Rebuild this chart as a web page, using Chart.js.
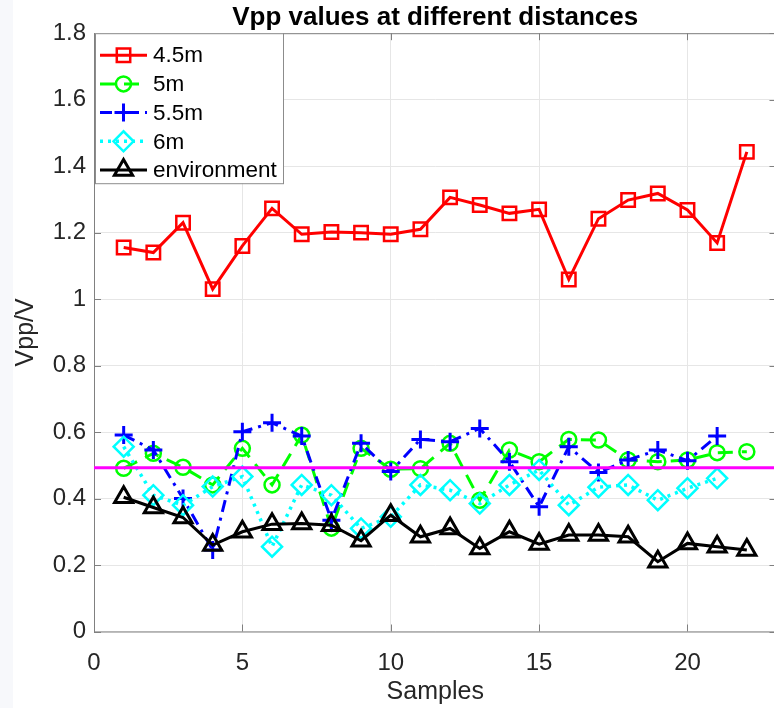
<!DOCTYPE html>
<html>
<head>
<meta charset="utf-8">
<script src="https://cdn.jsdelivr.net/npm/chart.js@4/dist/chart.umd.min.js"></script>
<style>
  html, body { margin: 0; padding: 0; background: #ffffff; overflow: hidden; width: 774px; height: 708px; }
  #wrap { position: relative; width: 790px; height: 708px; }
  #strip { position: absolute; left: 0; top: 0; width: 13px; height: 708px; background: #f7f8fb; }
  canvas { position: absolute; left: 0; top: 0; }
</style>
</head>
<body>
<div id="wrap"><div id="strip"></div><canvas id="c" width="790" height="708"></canvas></div>
<script>
// Sample index
const samples = [1, 2, 3, 4, 5, 6, 7, 8, 9, 10, 11, 12, 13, 14, 15, 16, 17, 18, 19, 20, 21, 22];

// Peak-to-peak voltage (V) per distance
const vpp45 = [1.155, 1.14, 1.23, 1.03, 1.16, 1.273, 1.195, 1.202, 1.20, 1.195, 1.21,
               1.306, 1.283, 1.258, 1.27, 1.059, 1.242, 1.298, 1.318, 1.268, 1.169, 1.443];
const vpp5  = [0.491, 0.536, 0.494, 0.441, 0.551, 0.441, 0.591, 0.311, 0.551, 0.488, 0.490,
               0.566, 0.395, 0.546, 0.511, 0.578, 0.576, 0.516, 0.511, 0.516, 0.538, 0.541];
const vpp55 = [0.591, 0.546, 0.40, 0.245, 0.601, 0.628, 0.588, 0.335, 0.566, 0.481, 0.578,
               0.571, 0.611, 0.511, 0.375, 0.556, 0.478, 0.516, 0.546, 0.514, 0.588];
const vpp6  = [0.556, 0.41, 0.38, 0.436, 0.466, 0.255, 0.441, 0.41, 0.31, 0.345, 0.441,
               0.425, 0.385, 0.441, 0.486, 0.38, 0.434, 0.441, 0.395, 0.431, 0.461];
const vppEnv = [0.404, 0.373, 0.343, 0.26, 0.30, 0.323, 0.325, 0.32, 0.273, 0.35, 0.285,
                0.31, 0.25, 0.30, 0.263, 0.29, 0.29, 0.285, 0.21, 0.265, 0.255, 0.245];

// Detection threshold (horizontal reference line)
const threshold = 0.4925;

// Axis ticks
const xTicks = [0, 5, 10, 15, 20];
const yTicks = [0, 0.2, 0.4, 0.6, 0.8, 1, 1.2, 1.4, 1.6, 1.8];
const seriesNames = ['4.5m', '5m', '5.5m', '6m', 'environment'];

const pts = (vals) => vals.map((v, i) => ({ x: samples[i], y: v }));

const FONT = "'Liberation Sans', Arial, Helvetica, sans-serif";
const AXIS_COLOR = '#262626';

function series(label, vals, color, dash, style, radius, lw, pw, order) {
  return {
    label, data: pts(vals), borderColor: color, borderWidth: lw, borderDash: dash,
    pointStyle: style, pointRadius: radius, pointHoverRadius: radius,
    pointBorderColor: color, pointBackgroundColor: 'rgba(0,0,0,0)', pointBorderWidth: pw,
    tension: 0, fill: false, order, showLine: true, inLegend: true
  };
}

const datasets = [
  series(seriesNames[0], vpp45, '#ff0000', [], 'rect', 9.5, 3, 2.5, 5),
  series(seriesNames[1], vpp5, '#00ff00', [15, 9], 'circle', 7.5, 3, 2.5, 4),
  series(seriesNames[2], vpp55, '#0000ff', [12, 6, 3, 6], 'cross', 9, 3, 3, 3),
  series(seriesNames[3], vpp6, '#00ffff', [3, 5], 'rectRot', 10, 3.5, 2.5, 2),
  series(seriesNames[4], vppEnv, '#000000', [], 'triangle', 10.5, 3, 3, 1),
  {
    label: 'threshold', data: [{ x: 0, y: threshold }, { x: 23, y: threshold }],
    borderColor: '#ff00ff', borderWidth: 3, pointRadius: 0, order: 0, inLegend: false
  }
];

// Axes box with inward tick marks on all four sides
const boxPlugin = {
  id: 'boxFrame',
  beforeDatasetsDraw(chart) {
    const { ctx, chartArea: a, scales } = chart;
    const tl = 7;
    ctx.save();
    ctx.strokeStyle = '#808080';
    ctx.lineWidth = 1;
    ctx.strokeRect(a.left + 0.5, a.top + 0.5, a.right - a.left, a.bottom - a.top);
    ctx.beginPath();
    xTicks.forEach(v => {
      const x = Math.round(scales.x.getPixelForValue(v)) + 0.5;
      ctx.moveTo(x, a.bottom); ctx.lineTo(x, a.bottom - tl);
      ctx.moveTo(x, a.top); ctx.lineTo(x, a.top + tl);
    });
    yTicks.forEach(v => {
      const y = Math.round(scales.y.getPixelForValue(v)) + 0.5;
      ctx.moveTo(a.left, y); ctx.lineTo(a.left + tl, y);
      ctx.moveTo(a.right, y); ctx.lineTo(a.right - tl, y);
    });
    ctx.stroke();
    ctx.restore();
  }
};

// Boxed legend: line sample with the series marker, then the name
const legendPlugin = {
  id: 'boxLegend',
  afterDraw(chart) {
    const { ctx, chartArea: a } = chart;
    const items = chart.data.datasets.filter(d => d.inLegend);
    const left = a.left + 1, top = a.top, w = 188, rowH = 28.7, h = 150;
    ctx.save();
    ctx.fillStyle = '#ffffff';
    ctx.fillRect(left, top, w, h);
    ctx.strokeStyle = '#8c8c8c';
    ctx.lineWidth = 1;
    ctx.strokeRect(left + 0.5, top + 0.5, w, h);
    items.forEach((d, i) => {
      const y = top + 22 + i * rowH;
      ctx.save();
      ctx.strokeStyle = d.borderColor;
      ctx.lineWidth = d.borderWidth;
      ctx.setLineDash(d.borderDash || []);
      ctx.beginPath();
      ctx.moveTo(left + 5, y); ctx.lineTo(left + 52, y);
      ctx.stroke();
      ctx.setLineDash([]);
      ctx.lineWidth = d.pointBorderWidth;
      ctx.fillStyle = 'rgba(0,0,0,0)';
      Chart.helpers.drawPoint(ctx, {
        pointStyle: d.pointStyle, rotation: 0, radius: d.pointRadius, borderWidth: d.pointBorderWidth
      }, left + 28.5, y);
      ctx.restore();
      ctx.fillStyle = '#000000';
      ctx.font = '22.5px ' + FONT;
      ctx.textBaseline = 'middle';
      ctx.textAlign = 'left';
      ctx.fillText(d.label, left + 58, y + 1);
    });
    ctx.restore();
  }
};

new Chart(document.getElementById('c'), {
  type: 'line',
  data: { datasets },
  options: {
    responsive: false,
    animation: false,
    events: [],
    layout: { padding: { left: 0, right: 10.6, top: 0, bottom: 0 } },
    plugins: {
      legend: { display: false },
      tooltip: { enabled: false },
      title: {
        display: true, fullSize: false, text: 'Vpp values at different distances', color: '#000000',
        font: { family: FONT, size: 26, weight: 'bold' }, padding: { top: 2, bottom: 0 }
      }
    },
    scales: {
      x: {
        type: 'linear', min: 0, max: 23,
        afterBuildTicks(s) { s.ticks = xTicks.map(v => ({ value: v })); },
        afterFit(s) { s.height = 76.5; },
        grid: { color: '#e6e6e6', lineWidth: 1, drawTicks: false },
        border: { display: false },
        ticks: { color: AXIS_COLOR, font: { family: FONT, size: 24 }, padding: 17, maxRotation: 0 },
        title: { display: true, text: 'Samples', color: AXIS_COLOR, font: { family: FONT, size: 25 }, padding: { top: 0, bottom: 1 } }
      },
      y: {
        type: 'linear', min: 0, max: 1.8,
        afterBuildTicks(s) { s.ticks = yTicks.map(v => ({ value: v })); },
        afterFit(s) { s.width = 94; },
        grid: { color: '#e6e6e6', lineWidth: 1, drawTicks: false },
        border: { display: false },
        ticks: {
          color: AXIS_COLOR, font: { family: FONT, size: 24 }, padding: 8,
          callback: (v) => (Number.isInteger(v) ? String(v) : v.toFixed(1))
        },
        title: { display: true, text: 'Vpp/V', color: AXIS_COLOR, font: { family: FONT, size: 25 }, padding: { top: 11, bottom: 0 } }
      }
    }
  },
  plugins: [boxPlugin, legendPlugin]
});
</script>
</body>
</html>
